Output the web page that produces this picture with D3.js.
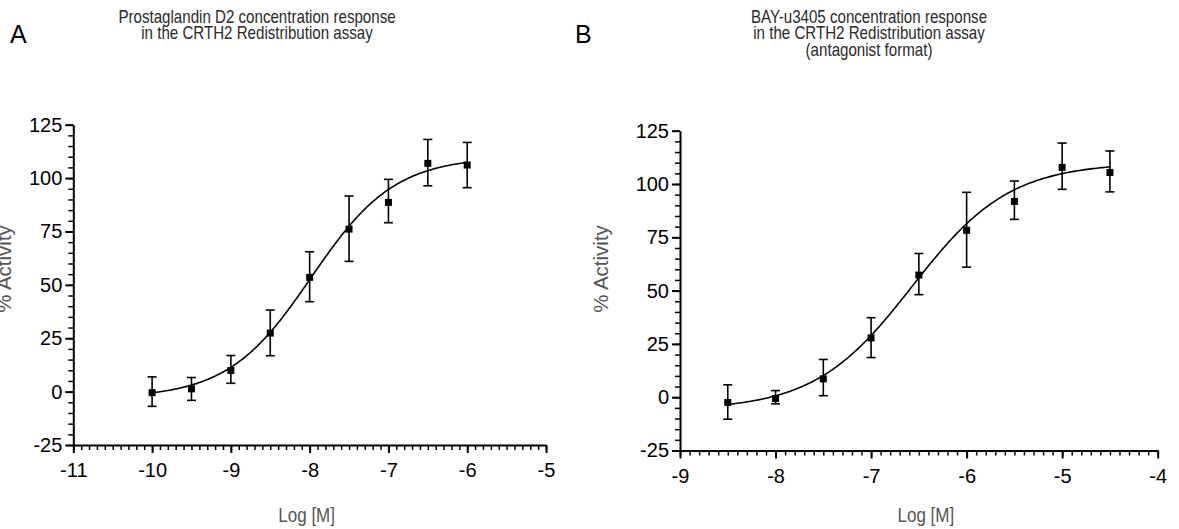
<!DOCTYPE html>
<html>
<head>
<meta charset="utf-8">
<script src="https://cdn.jsdelivr.net/npm/d3@7/dist/d3.min.js"></script>
<style>
  html, body { margin: 0; padding: 0; background: #fff; }
  svg { display: block; }
  .tick text { font-family: "Liberation Sans", Arial, sans-serif; font-size: 20px; fill: #000; }
  .title { font-family: "Liberation Sans", Arial, sans-serif; font-size: 17.8px; fill: #2a2a2a; }
  .alabel { font-family: "Liberation Sans", Arial, sans-serif; font-size: 20px; fill: #555; }
  .ylabel { font-family: "Liberation Sans", Arial, sans-serif; font-size: 20.5px; fill: #555; }
  .panel { font-family: "Liberation Sans", Arial, sans-serif; font-size: 25px; fill: #000; }
</style>
</head>
<body>
<svg id="chart" width="1179" height="529"></svg>
<script>
// ---------- Data ----------
// Panel A: Prostaglandin D2
const aLogM  = [-10, -9.5, -9, -8.5, -8, -7.5, -7, -6.5, -6];
const aMean  = [-0.5, 1.3, 9.9, 27.4, 53.5, 76.1, 88.6, 106.9, 106.1];
const aUpper = [6.9, 6.6, 16.9, 38.2, 65.5, 91.6, 99.4, 118.1, 116.7];
const aLower = [-6.9, -4.1, 3.9, 16.8, 42.1, 61.0, 79.1, 96.4, 95.5];
// 4PL fit: bottom, top, logEC50, hill
const aFit = [-3, 110, -7.98, 0.82];

// Panel B: BAY-u3405
const bLogM  = [-8.5, -8, -7.5, -7, -6.5, -6, -5.5, -5, -4.5];
const bMean  = [-2.5, -0.6, 8.6, 27.8, 57.3, 78.3, 91.8, 107.8, 105.4];
const bUpper = [5.8, 3.1, 17.7, 37.3, 67.4, 96.1, 101.4, 119.2, 115.5];
const bLower = [-10.3, -3.1, 0.7, 18.6, 48.1, 61.0, 83.4, 97.5, 96.3];
const bFit = [-6, 110, -6.57, 0.85];

const yTicks = [-25, 0, 25, 50, 75, 100, 125];
const aXTicks = [-11, -10, -9, -8, -7, -6, -5];
const bXTicks = [-9, -8, -7, -6, -5, -4];

const aTitle = ["Prostaglandin D2 concentration response", "in the CRTH2 Redistribution assay"];
const bTitle = ["BAY-u3405 concentration response", "in the CRTH2 Redistribution assay", "(antagonist format)"];

const svg = d3.select("#chart");
const condense = 0.85;

function fourPL(p, x) {
  const [bot, top, ec, h] = p;
  return bot + (top - bot) / (1 + Math.pow(10, (ec - x) * h));
}

function drawPanel(cfg) {
  const g = svg.append("g");
  const x = d3.scaleLinear().domain(cfg.xDomain).range(cfg.xRange);
  const y = d3.scaleLinear().domain([-25, 125]).range(cfg.yRange);

  // minor ticks
  const xMinor = d3.range(cfg.xDomain[0] * 10, cfg.xDomain[1] * 10 + 1).map(v => v / 10);
  const yMinor = d3.range(-25, 126, 5);

  g.append("g").attr("transform", `translate(0,${cfg.yRange[0]})`)
    .call(d3.axisBottom(x).tickValues(xMinor).tickSize(5).tickFormat(""))
    .call(a => a.select(".domain").remove())
    .call(a => a.selectAll("line").attr("stroke-width", 1.5));
  g.append("g").attr("transform", `translate(${cfg.xRange[0]},0)`)
    .call(d3.axisLeft(y).tickValues(yMinor).tickSize(5).tickFormat(""))
    .call(a => a.select(".domain").remove())
    .call(a => a.selectAll("line").attr("stroke-width", 1.5));

  // major axes
  g.append("g").attr("transform", `translate(0,${cfg.yRange[0]})`)
    .call(d3.axisBottom(x).tickValues(cfg.xTicks).tickSize(8).tickSizeOuter(0).tickPadding(10))
    .call(a => a.select(".domain").attr("stroke-width", 2))
    .call(a => a.selectAll("line").attr("stroke-width", 2))
    .call(a => a.selectAll("text").text(d => String(d)));
  g.append("g").attr("transform", `translate(${cfg.xRange[0]},0)`)
    .call(d3.axisLeft(y).tickValues(yTicks).tickSize(8).tickSizeOuter(0).tickPadding(3))
    .call(a => a.select(".domain").attr("stroke-width", 2))
    .call(a => a.selectAll("line").attr("stroke-width", 2))
    .call(a => a.selectAll("text").text(d => String(d)));

  // fitted curve
  const xs = d3.range(0, 201).map(i => cfg.fitRange[0] + (cfg.fitRange[1] - cfg.fitRange[0]) * i / 200);
  g.append("path")
    .attr("d", d3.line().x(d => x(d)).y(d => y(fourPL(cfg.fit, d)))(xs))
    .attr("fill", "none").attr("stroke", "#000").attr("stroke-width", 1.6);

  // error bars + markers
  const capW = 4.5;
  cfg.logM.forEach((lm, i) => {
    const cx = x(lm);
    g.append("line").attr("x1", cx).attr("x2", cx)
      .attr("y1", y(cfg.upper[i])).attr("y2", y(cfg.lower[i]))
      .attr("stroke", "#000").attr("stroke-width", 1.6);
    [cfg.upper[i], cfg.lower[i]].forEach(v => {
      g.append("line").attr("x1", cx - capW).attr("x2", cx + capW)
        .attr("y1", y(v)).attr("y2", y(v))
        .attr("stroke", "#000").attr("stroke-width", 1.6);
    });
    g.append("rect").attr("x", cx - 3.5).attr("y", y(cfg.mean[i]) - 3.5)
      .attr("width", 7).attr("height", 7).attr("fill", "#000");
  });

  // titles (condensed look via horizontal scale)
  cfg.title.forEach((t, i) => {
    g.append("text").attr("class", "title")
      .attr("transform", `translate(${cfg.titleX},${23 + i * 16.3}) scale(${condense},1)`)
      .attr("text-anchor", "middle").text(t);
  });
  // panel letter
  g.append("text").attr("class", "panel").attr("x", cfg.letterX).attr("y", 43).text(cfg.letter);
  // axis labels
  g.append("text").attr("class", "alabel")
    .attr("transform", `translate(${(cfg.xRange[0] + cfg.xRange[1]) / 2 + cfg.xLabelShift},522) scale(${condense},1)`)
    .attr("text-anchor", "middle").text("Log [M]");
  g.append("text").attr("class", "ylabel")
    .attr("transform", `translate(${cfg.yLabelX},269) rotate(-90)`)
    .attr("text-anchor", "middle").text("% Activity");
}

drawPanel({
  xDomain: [-11, -5], xRange: [73.3, 546], yRange: [445, 124.7],
  xTicks: aXTicks, logM: aLogM, mean: aMean, upper: aUpper, lower: aLower,
  fit: aFit, fitRange: [-10, -6], title: aTitle, titleX: 257, letter: "A", letterX: 10, yLabelX: 11,
  xLabelShift: -3
});
drawPanel({
  xDomain: [-9, -4], xRange: [680, 1157.7], yRange: [450.5, 130.7],
  xTicks: bXTicks, logM: bLogM, mean: bMean, upper: bUpper, lower: bLower,
  fit: bFit, fitRange: [-8.5, -4.5], title: bTitle, titleX: 869, letter: "B", letterX: 575, yLabelX: 608,
  xLabelShift: 7
});
</script>
</body>
</html>
